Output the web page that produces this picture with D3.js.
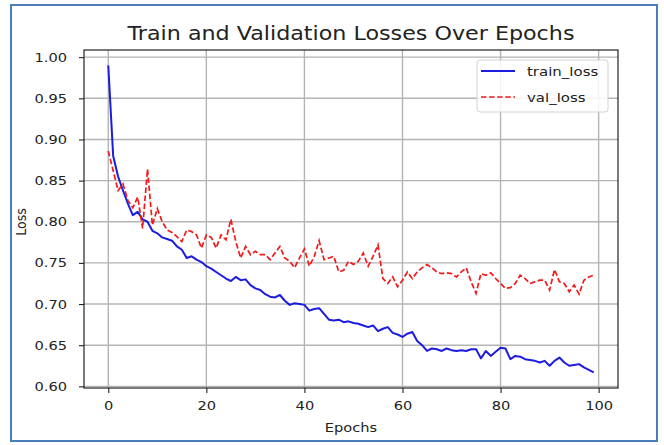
<!DOCTYPE html>
<html>
<head>
<meta charset="utf-8">
<script src="https://cdn.jsdelivr.net/npm/d3@7/dist/d3.min.js"></script>
<style>
  html, body { margin: 0; padding: 0; background: #fff; }
  svg { display: block; }
  text { font-family: "DejaVu Sans", sans-serif; fill: #222; }
</style>
</head>
<body>
<script>
// Loss per epoch (epochs 0..99)
const trainLoss = [
  0.990, 0.880, 0.855, 0.838, 0.822, 0.808, 0.812, 0.803, 0.800, 0.789,
  0.786, 0.781, 0.779, 0.777, 0.770, 0.766, 0.756, 0.758, 0.754, 0.751,
  0.746, 0.743, 0.739, 0.735, 0.731, 0.728, 0.733, 0.729, 0.730, 0.723,
  0.719, 0.717, 0.712, 0.709, 0.708, 0.711, 0.704, 0.699, 0.701, 0.700,
  0.699, 0.692, 0.694, 0.695, 0.688, 0.681, 0.680, 0.681, 0.678, 0.679,
  0.677, 0.676, 0.674, 0.672, 0.674, 0.667, 0.670, 0.672, 0.665, 0.663,
  0.660, 0.664, 0.666, 0.655, 0.650, 0.643, 0.646, 0.645, 0.643, 0.646,
  0.644, 0.643, 0.644, 0.643, 0.645, 0.645, 0.634, 0.643, 0.637, 0.642,
  0.647, 0.646, 0.633, 0.637, 0.636, 0.633, 0.632, 0.631, 0.629, 0.631,
  0.625, 0.631, 0.635, 0.629, 0.625, 0.626, 0.627, 0.623, 0.620, 0.617
];
const valLoss = [
  0.886, 0.862, 0.838, 0.846, 0.826, 0.817, 0.830, 0.792, 0.864, 0.796,
  0.816, 0.800, 0.790, 0.787, 0.782, 0.776, 0.790, 0.788, 0.784, 0.768,
  0.784, 0.781, 0.768, 0.784, 0.778, 0.803, 0.776, 0.756, 0.770, 0.760,
  0.764, 0.760, 0.760, 0.754, 0.762, 0.770, 0.756, 0.752, 0.744, 0.756,
  0.767, 0.746, 0.758, 0.777, 0.754, 0.756, 0.758, 0.739, 0.741, 0.752,
  0.748, 0.752, 0.762, 0.746, 0.758, 0.772, 0.731, 0.725, 0.733, 0.721,
  0.729, 0.739, 0.731, 0.739, 0.744, 0.748, 0.744, 0.739, 0.737, 0.738,
  0.737, 0.733, 0.739, 0.744, 0.727, 0.713, 0.737, 0.735, 0.738, 0.731,
  0.725, 0.719, 0.720, 0.725, 0.735, 0.731, 0.725, 0.727, 0.729, 0.729,
  0.717, 0.742, 0.727, 0.725, 0.715, 0.723, 0.712, 0.729, 0.733, 0.735
];
const xTicks = [0, 20, 40, 60, 80, 100];
const yTicks = [0.60, 0.65, 0.70, 0.75, 0.80, 0.85, 0.90, 0.95, 1.00];
const seriesNames = ["train_loss", "val_loss"];
const titleText = "Train and Validation Losses Over Epochs";
const xLabel = "Epochs";
const yLabel = "Loss";

const W = 664, H = 445;
const SX = 1.17;                 // horizontal stretch applied to all text
const plot = { left: 84, right: 618, top: 50, bottom: 388 };
const colors = { train: "#1c1ce0", val: "#f01a1a", grid: "#b4b4b4" };

const svg = d3.select("body").append("svg")
  .attr("width", W).attr("height", H);

// outer picture frame
svg.append("rect")
  .attr("x", 11).attr("y", 5).attr("width", 646).attr("height", 436)
  .attr("fill", "#fff").attr("stroke", "#4a7ebb").attr("stroke-width", 2);

const x = d3.scaleLinear().domain([-4.95, 103.95]).range([plot.left, plot.right]);
const y = d3.scaleLinear().domain([0.598, 1.0087]).range([plot.bottom, plot.top]);

// grid
const grid = svg.append("g");
grid.selectAll("line.gx").data(xTicks).join("line")
  .attr("x1", d => x(d)).attr("x2", d => x(d))
  .attr("y1", plot.top).attr("y2", plot.bottom)
  .attr("stroke", colors.grid).attr("stroke-width", 1.4);
grid.selectAll("line.gy").data(yTicks).join("line")
  .attr("y1", d => y(d)).attr("y2", d => y(d))
  .attr("x1", plot.left).attr("x2", plot.right)
  .attr("stroke", colors.grid).attr("stroke-width", 1.4);

// series
const line = d3.line().x((d, i) => x(i)).y(d => y(d));
svg.append("path").datum(trainLoss)
  .attr("d", line).attr("fill", "none")
  .attr("stroke", colors.train).attr("stroke-width", 2)
  .attr("stroke-linejoin", "round");
svg.append("path").datum(valLoss)
  .attr("d", line).attr("fill", "none")
  .attr("stroke", colors.val).attr("stroke-width", 1.7)
  .attr("stroke-dasharray", "5.5,2.6");

// spines
svg.append("rect")
  .attr("x", plot.left).attr("y", plot.top)
  .attr("width", plot.right - plot.left).attr("height", plot.bottom - plot.top)
  .attr("fill", "none").attr("stroke", "#222").attr("stroke-width", 1.2);

// axes
const xAxis = svg.append("g")
  .attr("transform", `translate(0,${plot.bottom})`)
  .call(d3.axisBottom(x).tickValues(xTicks).tickSize(5).tickPadding(8).tickFormat(d3.format("d")));
const yAxis = svg.append("g")
  .attr("transform", `translate(${plot.left},0)`)
  .call(d3.axisLeft(y).tickValues(yTicks).tickSize(5).tickPadding(10).tickFormat(d3.format(".2f")));
[xAxis, yAxis].forEach(g => {
  g.select(".domain").remove();
  g.selectAll(".tick line").attr("stroke", "#222").attr("stroke-width", 1.1);
  g.selectAll(".tick text")
    .attr("font-family", "DejaVu Sans, sans-serif")
    .attr("font-size", 12.5).attr("fill", "#222");
});
xAxis.selectAll(".tick text").attr("transform", `scale(${SX},1)`);
yAxis.selectAll(".tick text").attr("x", -17 / SX).attr("transform", `scale(${SX},1)`);

// stretched text helper
function label(px, py, str, size, anchor, rot) {
  const g = svg.append("g")
    .attr("transform", `translate(${px},${py}) scale(${SX},1)` + (rot ? ` rotate(${rot})` : ""));
  g.append("text").attr("text-anchor", anchor).attr("font-size", size).text(str);
  return g;
}

label((plot.left + plot.right) / 2, 40, titleText, 19, "middle");
label((plot.left + plot.right) / 2, 432, xLabel, 12.5, "middle");
label(26, (plot.top + plot.bottom) / 2 + 3, yLabel, 12.5, "middle", -90);

// legend
const lg = { x: 477, y: 60, w: 131, h: 52, row: 26 };
svg.append("rect")
  .attr("x", lg.x).attr("y", lg.y).attr("width", lg.w).attr("height", lg.h)
  .attr("rx", 3).attr("fill", "#fff").attr("fill-opacity", 0.85)
  .attr("stroke", "#d2d2d2").attr("stroke-width", 1);
const legendItems = [
  { name: seriesNames[0], color: colors.train, dash: null, w: 2 },
  { name: seriesNames[1], color: colors.val, dash: "5.5,2.6", w: 1.7 }
];
legendItems.forEach((it, i) => {
  const cy = lg.y + 11 + i * lg.row;
  svg.append("line")
    .attr("x1", lg.x + 4).attr("x2", lg.x + 38).attr("y1", cy).attr("y2", cy)
    .attr("stroke", it.color).attr("stroke-width", it.w)
    .attr("stroke-dasharray", it.dash);
  label(lg.x + 50, cy + 4.5, it.name, 12.8, "start");
});
</script>
</body>
</html>
